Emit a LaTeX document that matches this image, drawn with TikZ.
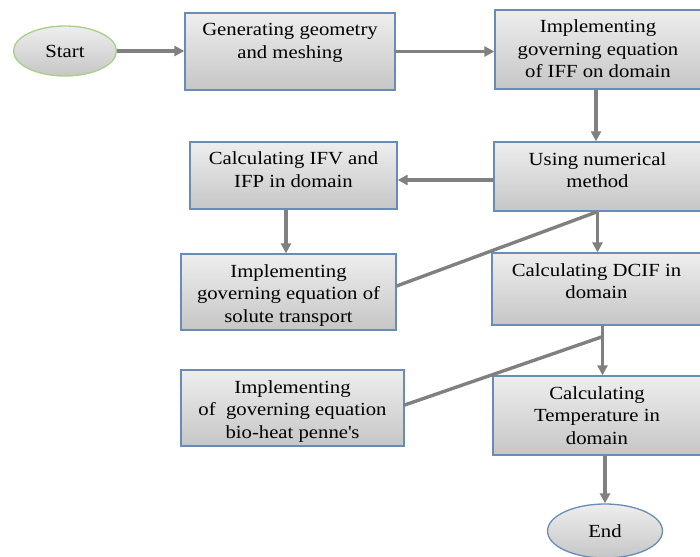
\documentclass[tikz,border=0pt]{standalone}
\usepackage{fontspec}
\setmainfont{Liberation Serif}[FakeStretch=1.12]
\usetikzlibrary{arrows.meta,shapes.geometric}
\definecolor{boxline}{RGB}{104,140,181}
\definecolor{startline}{RGB}{165,208,135}
\definecolor{linkgray}{RGB}{128,128,128}
\definecolor{shadetop}{RGB}{238,238,238}
\definecolor{shadebot}{RGB}{198,198,198}
\newcommand{\boxlines}[3]{\parbox[c][#2][t]{#1}{\centering\rule{0pt}{23pt}#3}}

\begin{document}
\begin{tikzpicture}[x=1pt,y=-1pt,>={Triangle[length=10pt,width=10pt]},
  procbox/.style={draw=boxline,line width=1.3pt,inner sep=0pt,
    top color=shadetop,bottom color=shadebot,
    font=\fontsize{18.5}{22.5}\selectfont},
  termbox/.style={ellipse,line width=1.3pt,inner sep=0pt,
    top color=shadetop,bottom color=shadebot,
    font=\fontsize{18.5}{22.5}\selectfont},
  link/.style={draw=linkgray,line width=3.4pt}]
  \useasboundingbox (0,0) rectangle (700,556);
  \node[termbox,draw=startline,minimum width=103pt,minimum height=50pt] (st) at (65,51) {Start};
  \node[procbox] (b1) at (290,51.5)  {\boxlines{210pt}{77pt}{Generating geometry\\and meshing}};
  \node[procbox] (b2) at (598,49.5)  {\boxlines{206pt}{79pt}{Implementing\\governing equation\\of IFF on domain}};
  \node[procbox] (b3) at (597.5,176.5) {\boxlines{207pt}{69pt}{Using numerical\\method}};
  \node[procbox] (b4) at (293.5,175.5) {\boxlines{207pt}{67pt}{Calculating IFV and\\IFP in domain}};
  \node[procbox] (b5) at (288.5,292) {\boxlines{215pt}{76pt}{Implementing\\governing equation of\\solute transport}};
  \node[procbox] (b6) at (596.5,289) {\boxlines{209pt}{72pt}{Calculating DCIF in\\domain}};
  \node[procbox] (b7) at (597,415.5) {\boxlines{208pt}{79pt}{Calculating\\Temperature in\\domain}};
  \node[procbox] (b8) at (292.5,408) {\boxlines{223pt}{76pt}{Implementing\\of\ \ governing equation\\bio-heat penne\textquotesingle s}};
  \node[termbox,draw=boxline,minimum width=115pt,minimum height=54pt] (en) at (605,531) {End};
  \coordinate (j1) at (b3.south);
  \coordinate (j2) at ([xshift=6pt,yshift=-11pt]b6.south);
  \draw[link,->] (st.east) -- (st.east -| b1.west);
  \draw[link,->] (b1.east) -- (b1.east -| b2.west);
  \draw[link,->] ([xshift=-2pt]b2.south) -- ([xshift=-2pt]b2.south |- b3.north);
  \draw[link,->] ([yshift=-3.5pt]b3.west) -- ([yshift=-3.5pt]b3.west -| b4.east);
  \draw[link,->] ([xshift=-7.5pt]b4.south) -- ([xshift=-7.5pt]b4.south |- b5.north);
  \draw[link] ([yshift=6pt]b5.east) -- (j1);
  \draw[link,->] (j1) -- (j1 |- b6.north);
  \draw[link,->] ([xshift=6pt]b6.south) -- ([xshift=6pt]b6.south |- b7.north);
  \draw[link] ([yshift=3pt]b8.east) -- (j2);
  \draw[link,->] (en |- b7.south) -- (en.north);
\end{tikzpicture}
\end{document}
